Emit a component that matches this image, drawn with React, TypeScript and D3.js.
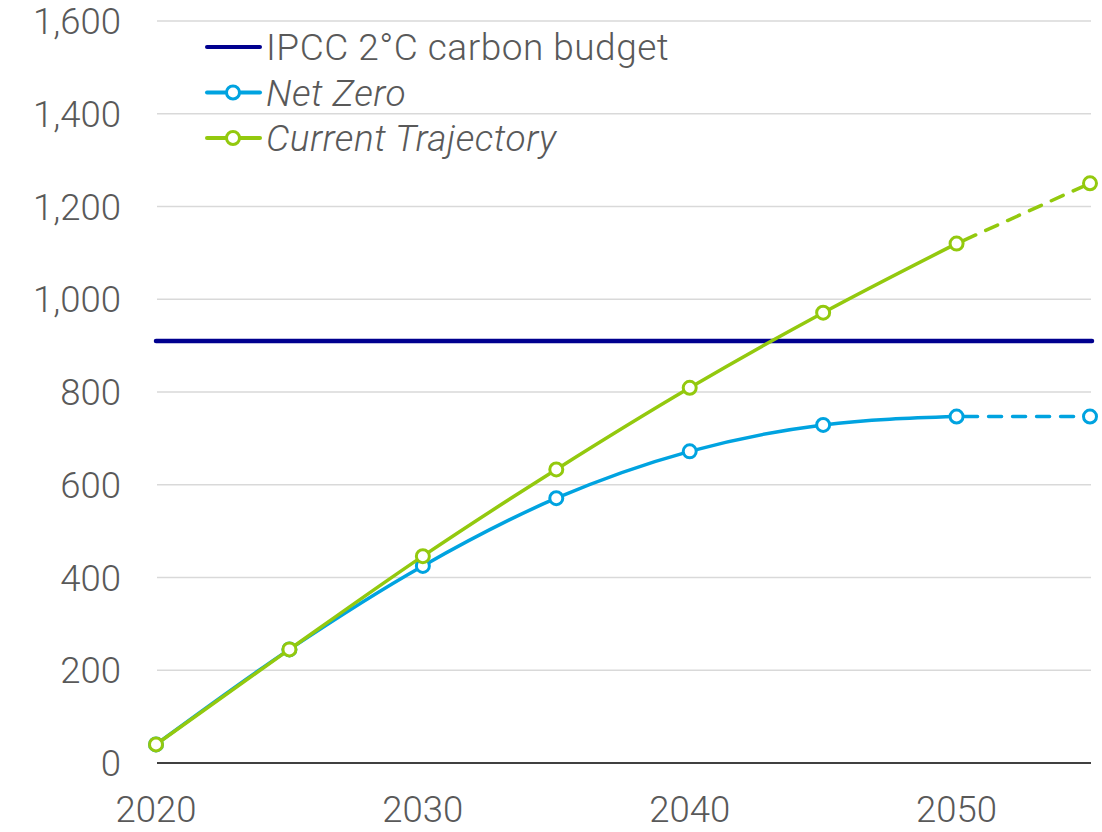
import * as d3 from "d3";

const years = [2020, 2025, 2030, 2035, 2040, 2045, 2050, 2055];
const netZero = [40, 245, 425, 571, 672, 729, 747, 747];
const currentTrajectory = [40, 245, 446, 633, 809, 971, 1120, 1250];
const carbonBudget = 910;
const yTicks = [0, 200, 400, 600, 800, 1000, 1200, 1400, 1600];
const xTicks = [2020, 2030, 2040, 2050];
const legendLabels = ["IPCC 2°C carbon budget", "Net Zero", "Current Trajectory"];

const width = 1102;
const height = 832;
const navy = "#00008f";
const blue = "#00a3e0";
const green = "#93c90e";
const grey = "#595959";
const font = "Roboto, 'Noto Sans', sans-serif";
const fs = 36.5;

export default function App() {
  const x = d3.scaleLinear([2020, 2055], [156, 1090]);
  const y = d3.scaleLinear([0, 1600], [763, 21]);

  const line = d3
    .line<number>()
    .x((d, i) => x(years[i]))
    .y(d => y(d))
    .curve(d3.curveMonotoneX);

  // solid up to 2050, dashed for the last step
  const solid = (vals: number[]) => line(vals.slice(0, 7)) || "";
  const dashed = (vals: number[]) =>
    d3.line<number>().x((d, i) => x(years[6 + i])).y(d => y(d))(vals.slice(6)) || "";

  const series = [
    { vals: netZero, color: blue },
    { vals: currentTrajectory, color: green },
  ];

  return (
    <svg
      width={width}
      height={height}
      style={{ position: "absolute", left: 0, top: 0, background: "#fff" }}
      fontFamily={font}
    >
      {yTicks.map(t => (
        <g key={t}>
          {t > 0 && (
            <line x1={157} x2={1091} y1={y(t)} y2={y(t)} stroke="#d9d9d9" strokeWidth={1.5} />
          )}
          <text
            x={121}
            y={y(t)}
            dy="0.36em"
            textAnchor="end"
            fontSize={fs}
            fontWeight={300}
            fill={grey}
          >
            {d3.format(",")(t)}
          </text>
        </g>
      ))}
      <line x1={157} x2={1091} y1={y(0)} y2={y(0)} stroke="#000" strokeWidth={1.5} />
      {xTicks.map(t => (
        <text
          key={t}
          x={x(t)}
          y={822}
          textAnchor="middle"
          fontSize={fs}
          fontWeight={300}
          fill={grey}
        >
          {t}
        </text>
      ))}

      <line
        x1={156}
        x2={1092}
        y1={y(carbonBudget)}
        y2={y(carbonBudget)}
        stroke={navy}
        strokeWidth={4.5}
        strokeLinecap="round"
      />

      {series.map(s => (
        <g key={s.color}>
          <path d={solid(s.vals)} fill="none" stroke={s.color} strokeWidth={3.5} />
          <path
            d={dashed(s.vals)}
            fill="none"
            stroke={s.color}
            strokeWidth={3.5}
            strokeDasharray="13,11"
            strokeDashoffset={-8}
            strokeLinecap="round"
          />
          {s.vals.map((v, i) => (
            <circle
              key={i}
              cx={x(years[i])}
              cy={y(v)}
              r={6.5}
              fill="#fff"
              stroke={s.color}
              strokeWidth={3}
            />
          ))}
        </g>
      ))}

      {legendLabels.map((l, i) => {
        const ly = 47 + i * 45.5;
        const c = [navy, blue, green][i];
        return (
          <g key={l}>
            <line x1={207} x2={260} y1={ly} y2={ly} stroke={c} strokeWidth={4} strokeLinecap="round" />
            {i > 0 && <circle cx={233} cy={ly} r={6.5} fill="#fff" stroke={c} strokeWidth={3} />}
            <text
              x={266}
              y={ly}
              dy="0.36em"
              fontSize={37}
              fontWeight={300}
              letterSpacing={0.5}
              fontStyle={i > 0 ? "italic" : "normal"}
              fill={grey}
            >
              {l}
            </text>
          </g>
        );
      })}
    </svg>
  );
}
